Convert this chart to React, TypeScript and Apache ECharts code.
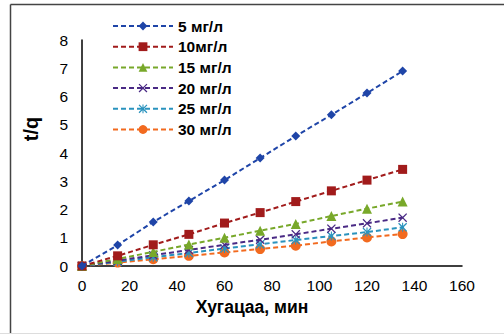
import React, { useEffect, useRef } from "react";
import * as echarts from "echarts";

const times = [0, 15, 30, 45, 60, 75, 90, 105, 120, 135];
const seriesNames = ["5 мг/л", "10мг/л", "15 мг/л", "20 мг/л", "25 мг/л", "30 мг/л"];
const s5 = [0, 0.74, 1.56, 2.3, 3.04, 3.82, 4.6, 5.35, 6.12, 6.9];
const s10 = [0, 0.36, 0.75, 1.12, 1.52, 1.89, 2.28, 2.66, 3.04, 3.42];
const s15 = [0, 0.25, 0.5, 0.76, 1.0, 1.25, 1.49, 1.77, 2.03, 2.28];
const s20 = [0, 0.19, 0.38, 0.57, 0.75, 0.93, 1.12, 1.32, 1.51, 1.71];
const s25 = [0, 0.15, 0.31, 0.46, 0.62, 0.77, 0.92, 1.06, 1.2, 1.37];
const s30 = [0, 0.12, 0.24, 0.36, 0.48, 0.6, 0.72, 0.87, 1.01, 1.13];
const xTitle = "Хугацаа, мин";
const yTitle = "t/q";

const colors = ["#1F45A8", "#A11B1B", "#78A82A", "#4A2A85", "#2A93BE", "#F26A1F"];
const xPath = "path://M0,1 L1,0 L5,4 L9,0 L10,1 L6,5 L10,9 L9,10 L5,6 L1,10 L0,9 L4,5 Z";
const starPath =
  "path://M0,1 L1,0 L4.4,3.4 L4.4,0 L5.6,0 L5.6,3.4 L9,0 L10,1 L6.6,4.4 L6.6,5.6 L10,9 L9,10 L5.6,6.6 L5.6,10 L4.4,10 L4.4,6.6 L1,10 L0,9 L3.4,5.6 L3.4,4.4 Z";
const symbols = ["diamond", "rect", "triangle", xPath, starPath, "circle"];
const symbolSizes = [9, 9, 10, 9, 9, 10];
const allData = [s5, s10, s15, s20, s25, s30];

export default function App() {
  const ref = useRef<HTMLDivElement>(null);
  useEffect(() => {
    if (!ref.current) return;
    const chart = echarts.init(ref.current, null, { renderer: "svg" });
    const font = "'Liberation Sans', Arial, sans-serif";
    chart.setOption({
      animation: false,
      textStyle: { fontFamily: font },
      grid: { left: 82, right: 42, top: 40, bottom: 70 },
      legend: {
        orient: "vertical",
        left: 112,
        top: 18,
        padding: 0,
        itemWidth: 60,
        itemHeight: 11,
        itemGap: 4.7,
        data: seriesNames,
        textStyle: { fontSize: 15.5, fontWeight: "bold", color: "#000", fontFamily: font },
      },
      xAxis: {
        type: "value",
        min: 0,
        max: 160,
        interval: 20,
        axisLine: { show: true, lineStyle: { color: "#000", width: 1.5 } },
        axisTick: { show: false },
        splitLine: { show: false },
        axisLabel: { fontSize: 15.5, color: "#000", margin: 11, fontFamily: font },
      },
      yAxis: {
        type: "value",
        min: 0,
        max: 8,
        interval: 1,
        axisLine: { show: true, lineStyle: { color: "#000", width: 1.5 } },
        axisTick: { show: false },
        splitLine: { show: false },
        axisLabel: { fontSize: 15.5, color: "#000", margin: 14, fontFamily: font },
      },
      graphic: [
        { type: "line", shape: { x1: 10.5, y1: 4.5, x2: 504, y2: 4.5 }, style: { stroke: "#444", lineWidth: 1.5 } },
        { type: "line", shape: { x1: 10.5, y1: 4.5, x2: 10.5, y2: 333 }, style: { stroke: "#444", lineWidth: 1.5 } },
        { type: "line", shape: { x1: 0, y1: 333.5, x2: 504, y2: 333.5 }, style: { stroke: "#ddd", lineWidth: 1 } },
        {
          type: "text",
          x: 252,
          y: 307,
          style: {
            text: xTitle,
            fontSize: 17.5,
            fontWeight: "bold",
            fill: "#000",
            fontFamily: font,
            align: "center",
            verticalAlign: "middle",
          },
        },
        {
          type: "text",
          x: 31,
          y: 129,
          rotation: Math.PI / 2,
          style: {
            text: yTitle,
            fontSize: 20,
            fontWeight: "bold",
            fill: "#000",
            fontFamily: font,
            align: "center",
            verticalAlign: "middle",
          },
        },
      ],
      series: seriesNames.map((name, i) => ({
        name,
        type: "line",
        data: times.map((t, j) => [t, allData[i][j]]),
        symbol: symbols[i],
        symbolSize: symbolSizes[i],
        showAllSymbol: true,
        z: 10 - i,
        lineStyle: { color: colors[i], width: 2, type: [5, 3] },
        itemStyle: { color: colors[i], borderWidth: 0 },
      })),
    });
    return () => chart.dispose();
  }, []);
  return (
    <div
      ref={ref}
      style={{ position: "fixed", left: 0, top: 0, width: 504, height: 336, background: "#fff" }}
    />
  );
}
